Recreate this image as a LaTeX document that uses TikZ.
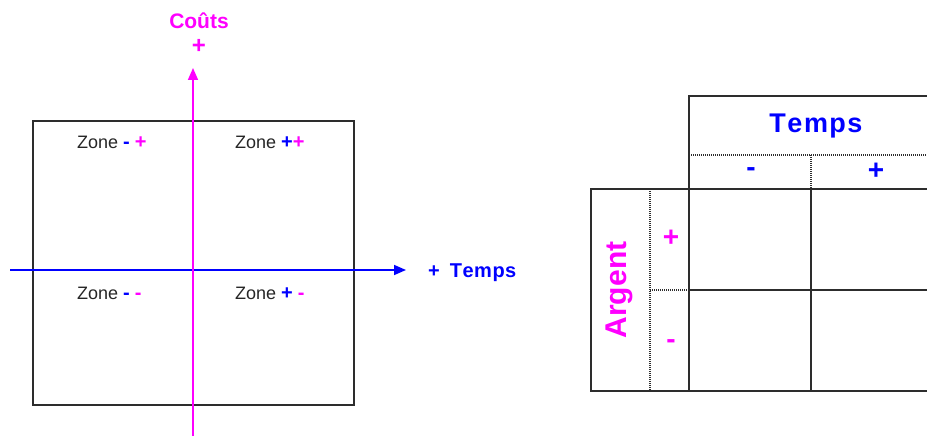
\documentclass[tikz,border=0pt]{standalone}
\usepackage{fontspec}
\setmainfont{Liberation Sans}
\usetikzlibrary{arrows.meta}
\definecolor{mag}{RGB}{255,0,255}
\definecolor{blu}{RGB}{0,0,255}
\definecolor{ln}{RGB}{45,45,45}
\newcommand{\zsf}{\fontsize{20}{20}\selectfont\bfseries}
\begin{document}
\begin{tikzpicture}[x=1pt,y=-1pt,
  box/.style={draw=ln,line width=1.3pt},
  dotl/.style={draw=ln,line width=1.1pt,dash pattern=on 1pt off 1pt},
  axis/.style={line width=1.6pt,-{Triangle[length=12pt,width=10pt]}},
  zone/.style={font=\fontsize{18}{18}\selectfont,anchor=base west,inner sep=0pt,text=black!85},
  big/.style={font=\fontsize{27}{27}\selectfont\bfseries,inner sep=0pt},
  sign/.style={font=\fontsize{28}{28}\selectfont\bfseries,inner sep=0pt}]
\useasboundingbox (0,0) rectangle (927,436);
% left diagram
\draw[box] (33,121) rectangle (354,405);
\coordinate (vb) at (193,436);
\coordinate (vt) at (193,68);
\coordinate (hl) at (10,270);
\coordinate (hr) at (406,270);
\draw[axis,draw=blu,fill=blu] (hl) -- (hr);
\draw[axis,draw=mag,fill=mag] (vb) -- (vt);
\node[font=\fontsize{21}{21}\selectfont\bfseries,text=mag,anchor=base,inner sep=0pt] (couts) at (199,29) {Coûts};
\node[font=\fontsize{24}{24}\selectfont\bfseries,text=mag,inner sep=0pt] (cplus) at (199,46) {+};
\node[font=\fontsize{20}{20}\selectfont\bfseries,text=blu,anchor=base west,inner sep=0pt] (temps1) at (428,277) {+\hspace{10pt}T\hspace{0.5pt}e\hspace{0.5pt}m\hspace{0.5pt}p\hspace{0.5pt}s};
\node[zone] (z1) at (77,148) {Zone \textcolor{blu}{\zsf-} \textcolor{mag}{\zsf+}};
\node[zone] (z2) at (235,148) {Zone \textcolor{blu}{\zsf+}\textcolor{mag}{\zsf+}};
\node[zone] (z3) at (77,299) {Zone \textcolor{blu}{\zsf-} \textcolor{mag}{\zsf-}};
\node[zone] (z4) at (235,299) {Zone \textcolor{blu}{\zsf+} \textcolor{mag}{\zsf-}};
% right table
\draw[box] (927,96) -- (689,96) -- (689,391);
\draw[box] (927,189) -- (591,189) -- (591,391) -- (927,391);
\draw[box] (811,189) -- (811,391);
\draw[box] (689,290) -- (927,290);
\draw[dotl] (689,155) -- (927,155);
\draw[dotl] (811,155) -- (811,189);
\draw[dotl] (650,189) -- (650,391);
\draw[dotl] (650,290) -- (689,290);
\node[big,text=blu] (temps2) at (816,126) {T\hspace{1.5pt}e\hspace{1.5pt}m\hspace{1.5pt}p\hspace{1.5pt}s};
\node[sign,text=blu] (tm) at (751,172) {-};
\node[sign,text=blu] (tp) at (876,171) {+};
\node[font=\fontsize{30}{30}\selectfont\bfseries,inner sep=0pt,text=mag,rotate=90] (argent) at (619,290) {Argent};
\node[sign,text=mag] (ap) at (671,238) {+};
\node[sign,text=mag] (am) at (671,344) {-};
\end{tikzpicture}
\end{document}
